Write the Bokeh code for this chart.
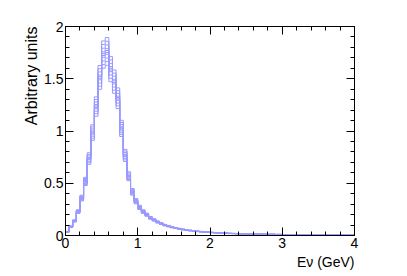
import numpy as np
from bokeh.plotting import figure
from bokeh.models import Range1d, LinearAxis, FixedTicker, Title
from bokeh.embed import file_html
from bokeh.resources import INLINE

# --- data -------------------------------------------------------------
bin_width = 0.05
# central histogram content per 0.05 GeV bin (0 - 4 GeV)
central = [0.035, 0.085, 0.14, 0.23, 0.36, 0.52, 0.74, 0.99, 1.24, 1.52,
           1.74, 1.77, 1.60, 1.48, 1.32, 1.03, 0.77, 0.57, 0.42, 0.33,
           0.27, 0.23, 0.20, 0.17, 0.15, 0.13, 0.115, 0.10, 0.09, 0.08,
           0.072, 0.065, 0.058, 0.053, 0.048, 0.044, 0.040, 0.037, 0.034, 0.031,
           0.029, 0.027, 0.025, 0.023, 0.022, 0.020, 0.019, 0.018, 0.017, 0.016,
           0.015, 0.014, 0.013, 0.013, 0.012, 0.012, 0.011, 0.011, 0.010, 0.010,
           0.009, 0.009, 0.009, 0.008, 0.008, 0.008, 0.007, 0.007, 0.007, 0.007,
           0.006, 0.006, 0.006, 0.006, 0.005, 0.005, 0.005, 0.005, 0.005, 0.005]
# normalisation of each flux universe relative to the central one
universe_scales = [0.92, 0.94, 0.96, 0.98, 0.99, 1.00, 1.01, 1.03, 1.05, 1.07]
x_ticks = [0, 1, 2, 3, 4]
y_ticks = [0, 0.5, 1, 1.5, 2]
y_tick_labels = ["0", "0.5", "1", "1.5", "2"]
x_title = "Eν (GeV)"
y_title = "Arbitrary units"

# --- figure -----------------------------------------------------------
p = figure(width=407, height=276, output_backend="svg", toolbar_location=None,
           x_range=Range1d(0, 4), y_range=Range1d(0, 2),
           min_border_left=65, min_border_right=53, min_border_top=26,
           min_border_bottom=41)
p.xgrid.visible = False
p.ygrid.visible = False
p.outline_line_color = "black"
p.outline_line_width = 1
p.background_fill_color = "white"
p.border_fill_color = "white"

edges = np.arange(len(central) + 1) * bin_width
vals = np.array(central)
color = "#9999ff"
for s in universe_scales:
    v = vals * s
    xs = np.repeat(edges, 2)
    ys = np.concatenate([[0], np.repeat(v, 2), [0]])
    p.line(xs, ys, line_color=color, line_width=1)

FONT = "Liberation Sans"

def style_axis(ax, labels=True):
    ax.axis_line_color = "black"
    ax.major_tick_in = 8
    ax.major_tick_out = 0
    ax.minor_tick_in = 4
    ax.minor_tick_out = 0
    ax.major_tick_line_color = "black"
    ax.minor_tick_line_color = "black"
    ax.major_label_text_font = FONT
    ax.major_label_text_font_size = "14px"
    ax.major_label_text_color = "black"
    ax.major_label_standoff = 2
    if not labels:
        ax.major_label_text_font_size = "0px"
        ax.major_label_text_alpha = 0

xt = FixedTicker(ticks=x_ticks, minor_ticks=list(np.round(np.arange(0, 4.0001, 0.2), 3)))
yt = FixedTicker(ticks=y_ticks, minor_ticks=list(np.round(np.arange(0, 2.0001, 0.1), 3)))

xa = p.xaxis[0]
ya = p.yaxis[0]
xa.ticker = xt
ya.ticker = yt
ya.major_label_overrides = {t: l for t, l in zip(y_ticks, y_tick_labels)}
xa.major_label_overrides = {t: str(t) for t in x_ticks}
style_axis(xa)
style_axis(ya)

top = LinearAxis(ticker=xt)
style_axis(top, labels=False)
p.add_layout(top, "above")
right = LinearAxis(ticker=yt)
style_axis(right, labels=False)
p.add_layout(right, "right")

# ROOT-style axis titles, aligned to the end of each axis
p.add_layout(Title(text=x_title, align="right", text_font=FONT,
                   text_font_style="normal", text_font_size="14px",
                   text_color="black", standoff=2), "below")
p.add_layout(Title(text=y_title, align="right", text_font=FONT,
                   text_font_style="normal", text_font_size="16px",
                   text_color="black", standoff=4), "left")

open("out.html", "w").write(file_html(p, INLINE))
